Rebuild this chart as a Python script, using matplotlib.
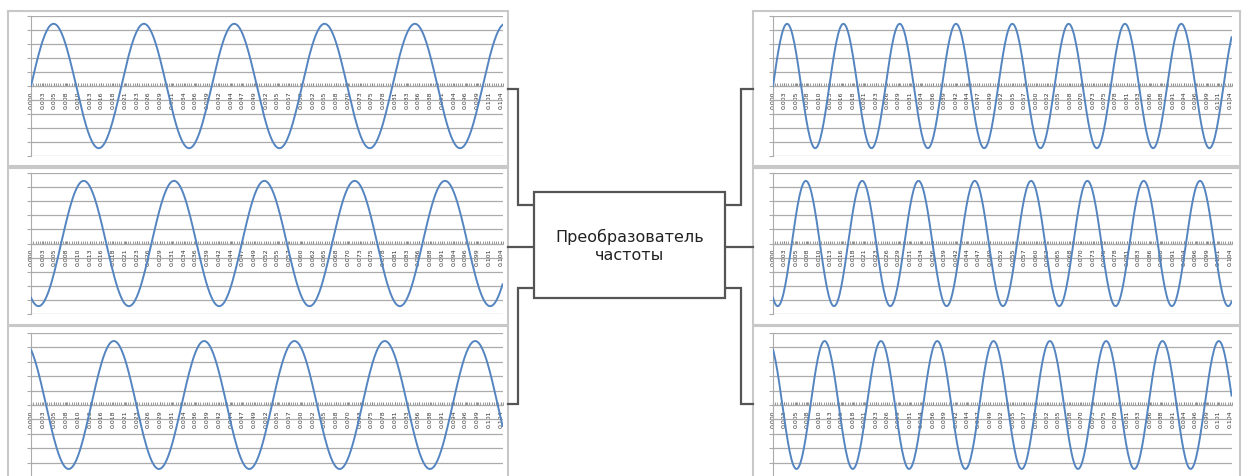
import matplotlib.pyplot as plt
from matplotlib.patches import Rectangle
from matplotlib.ticker import MultipleLocator
import numpy as np

# wave parameters: three phases in, three phases out
amplitude = 311.0                 # V, 220 V rms
freq_in = 50.0                    # Hz, left side
freq_out = 78.0                   # Hz, right side
phases_deg = [0, -120, 120]       # A, B, C
t_end = 0.1045
t_step = 0.0002
label_step = 0.0026
box_text = "Преобразователь\nчастоты"

W, H = 1242, 477
fig = plt.figure(figsize=(W / 100, H / 100), dpi=100)

# background layer in pixel coordinates for frames, connectors and the box
bg = fig.add_axes([0, 0, 1, 1], zorder=0)
bg.set_xlim(0, W)
bg.set_ylim(H, 0)
bg.axis('off')


def fig_box(x0, y0, x1, y1):
    return [x0 / W, 1 - y1 / H, (x1 - x0) / W, (y1 - y0) / H]


rows_frame = [(12, 167), (169, 326), (327, 490)]
rows_plot = [(17, 157), (174, 315), (334, 478)]
left_frame = (8, 508)
right_frame = (753, 1240)
left_plot = (31, 503)
right_plot = (773, 1232)

frame_col = '#c8c8c8'
grid_col = '#ababab'
line_col = '#5585c0'
conn_col = '#555555'

t = np.arange(0, t_end + t_step / 2, t_step)
xt = np.arange(0, t_end, label_step)


def draw_chart(frame_x, plot_x, frame_y, plot_y, freq, phase):
    bg.add_patch(Rectangle((frame_x[0], frame_y[0]), frame_x[1] - frame_x[0],
                           frame_y[1] - frame_y[0], facecolor='white',
                           edgecolor=frame_col, lw=1.5))
    ax = fig.add_axes(fig_box(plot_x[0], plot_y[0], plot_x[1], plot_y[1]), zorder=2)
    ax.set_facecolor('none')
    y = amplitude * np.sin(2 * np.pi * freq * t + np.radians(phase))
    ax.plot(t, y, color=line_col, lw=1.4, zorder=3)
    ax.set_xlim(0, t_end)
    ax.set_ylim(-350, 350)
    ax.set_yticks(np.linspace(-350, 350, 11))
    ax.grid(axis='y', color=grid_col, lw=0.9)
    ax.set_axisbelow(True)
    for s in ['top', 'right']:
        ax.spines[s].set_visible(False)
    ax.spines['left'].set_color(grid_col)
    ax.spines['bottom'].set_position(('data', 0))
    ax.spines['bottom'].set_color(grid_col)
    ax.tick_params(axis='y', length=3, color=grid_col, labelleft=False)
    ax.set_xticks(xt)
    ax.set_xticklabels([f"{v:.3f}" for v in xt], rotation=90, fontsize=4.5,
                       color='#333333')
    ax.xaxis.set_minor_locator(MultipleLocator(0.0005))
    ax.tick_params(axis='x', which='both', direction='in', length=2.5,
                   color='#888888', pad=3)
    return ax


for i in range(3):
    draw_chart(left_frame, left_plot, rows_frame[i], rows_plot[i], freq_in, phases_deg[i])
    draw_chart(right_frame, right_plot, rows_frame[i], rows_plot[i], freq_out, phases_deg[i])

# converter block
bx0, by0, bx1, by1 = 534, 193, 725, 299
bg.add_patch(Rectangle((bx0, by0), bx1 - bx0, by1 - by0, facecolor='white',
                       edgecolor=conn_col, lw=1.6, zorder=3))
bg.text((bx0 + bx1) / 2, (by0 + by1) / 2, box_text, ha='center', va='center',
        fontsize=11.5, color='#222222', linespacing=1.25, zorder=4)

# connectors between charts and the block
kw = dict(color=conn_col, lw=1.6, solid_joinstyle='miter', zorder=2)
bg.plot([508, 518, 518, bx0], [90, 90, 206, 206], **kw)
bg.plot([508, bx0], [248, 248], **kw)
bg.plot([bx0, 518, 518, 508], [289, 289, 405, 405], **kw)
bg.plot([bx1, 741, 741, 753], [206, 206, 90, 90], **kw)
bg.plot([bx1, 753], [248, 248], **kw)
bg.plot([bx1, 741, 741, 753], [289, 289, 405, 405], **kw)

fig.savefig('out.png', dpi=100)
